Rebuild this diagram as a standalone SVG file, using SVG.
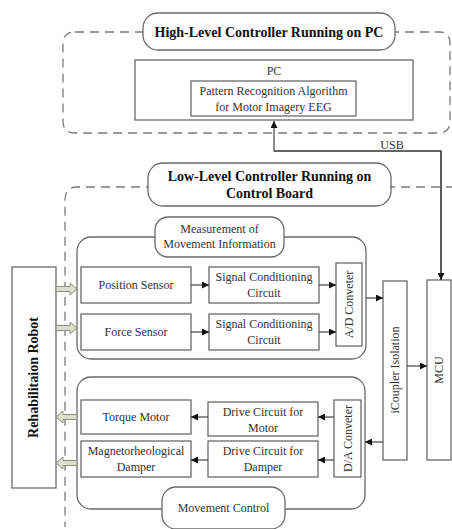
<svg xmlns="http://www.w3.org/2000/svg" width="452" height="529" viewBox="0 0 452 529">
<style>
.bx{fill:#fff;stroke:#6a6a6a;stroke-width:1.3}
.grp{fill:none;stroke:#6a6a6a;stroke-width:1.3}
.dash{fill:none;stroke:#7a7a7a;stroke-width:1.3;stroke-dasharray:9 6}
.t{font-family:"Liberation Serif","Times New Roman",serif;font-size:12px;fill:#333;text-anchor:middle}
.tb{font-family:"Liberation Serif","Times New Roman",serif;font-size:14px;font-weight:bold;fill:#111;text-anchor:middle}
.c{fill:none;stroke:#333;stroke-width:1.1}
.h{fill:#dcdfcc;stroke:#8a9080;stroke-width:1}
</style>
<defs>
<marker id="ar" viewBox="0 0 10 10" refX="10" refY="5" markerWidth="8" markerHeight="7" markerUnits="userSpaceOnUse" orient="auto">
<path d="M0,0 L10,5 L0,10 z" fill="#111"/>
</marker>
</defs>
<g id="high-level">
<path class="dash" d="M75,32 H440 Q450,32 450,44 V121 Q450,133 438,133 H75 Q63,133 63,121 V44 Q63,32 75,32 Z"/>
<rect class="bx" x="143" y="13" width="252" height="37" rx="15"/>
<text class="tb" x="269" y="36.5">High-Level Controller Running on PC</text>
</g>
<g id="pc">
<rect class="bx" x="135" y="60" width="278" height="60"/>
<text class="t" x="274" y="75">PC</text>
</g>
<g id="pattern">
<rect class="bx" x="191" y="81" width="165" height="35"/>
<text class="t" x="273.5" y="95">Pattern Recognition Algorithm</text>
<text class="t" x="273.5" y="111">for Motor Imagery EEG</text>
</g>
<g id="low-level">
<path class="dash" d="M455,187 H77 Q65,187 65,200 V527"/>
<rect class="bx" x="148" y="163" width="243" height="43" rx="15"/>
<text class="tb" x="269.5" y="181">Low-Level Controller Running on</text>
<text class="tb" x="269.5" y="198">Control Board</text>
</g>
<g id="measurement">
<rect class="grp" x="77" y="237" width="289" height="122" rx="14"/>
<rect class="bx" x="155" y="217" width="129" height="40" rx="13"/>
<text class="t" x="219.5" y="233">Measurement of</text>
<text class="t" x="219.5" y="248">Movement Information</text>
</g>
<g id="position-sensor">
<rect class="bx" x="81" y="267" width="110" height="36"/>
<text class="t" x="136" y="289">Position Sensor</text>
</g>
<g id="scc1">
<rect class="bx" x="209" y="267" width="110" height="36"/>
<text class="t" x="264" y="281">Signal Conditioning</text>
<text class="t" x="264" y="297">Circuit</text>
</g>
<g id="force-sensor">
<rect class="bx" x="81" y="314" width="110" height="36"/>
<text class="t" x="136" y="336">Force Sensor</text>
</g>
<g id="scc2">
<rect class="bx" x="209" y="314" width="110" height="36"/>
<text class="t" x="264" y="328">Signal Conditioning</text>
<text class="t" x="264" y="344">Circuit</text>
</g>
<g id="ad">
<rect class="bx" x="336" y="263" width="26" height="83"/>
<text class="t" transform="translate(353,304.5) rotate(-90)">A/D Conveter</text>
</g>
<g id="icoupler">
<rect class="bx" x="383" y="281" width="24" height="179"/>
<text class="t" transform="translate(398.5,370) rotate(-90)">iCoupler Isolation</text>
</g>
<g id="mcu">
<rect class="bx" x="427" y="280" width="24" height="180"/>
<text class="t" transform="translate(442.5,370) rotate(-90)">MCU</text>
</g>
<g id="robot">
<rect class="bx" x="12" y="267" width="44" height="221"/>
<text class="tb" transform="translate(37.5,377.5) rotate(-90)">Rehabilitaion Robot</text>
</g>
<g id="movement">
<rect class="grp" x="77" y="377" width="288" height="132" rx="14"/>
<rect class="bx" x="162" y="487" width="123" height="42" rx="14"/>
<text class="t" x="223.5" y="512">Movement Control</text>
</g>
<g id="torque-motor">
<rect class="bx" x="81" y="400" width="110" height="34"/>
<text class="t" x="136" y="421">Torque Motor</text>
</g>
<g id="drive-motor">
<rect class="bx" x="208" y="402" width="110" height="34"/>
<text class="t" x="263" y="416">Drive Circuit for</text>
<text class="t" x="263" y="432">Motor</text>
</g>
<g id="mr-damper">
<rect class="bx" x="81" y="441" width="110" height="36"/>
<text class="t" x="136" y="455">Magnetorheological</text>
<text class="t" x="136" y="471">Damper</text>
</g>
<g id="drive-damper">
<rect class="bx" x="208" y="441" width="110" height="36"/>
<text class="t" x="263" y="455">Drive Circuit for</text>
<text class="t" x="263" y="471">Damper</text>
</g>
<g id="da">
<rect class="bx" x="334" y="400" width="27" height="77"/>
<text class="t" transform="translate(351.5,438.5) rotate(-90)">D/A Conveter</text>
</g>
<g id="connectors">
<path class="c" d="M441,280 V151 H274 V121" marker-end="url(#ar)"/>
<path class="c" d="M274,151 H441 V280" marker-end="url(#ar)"/>
<text class="t" x="392" y="149">USB</text>
<path class="c" d="M191,285 H209" marker-end="url(#ar)"/>
<path class="c" d="M319,285 H336" marker-end="url(#ar)"/>
<path class="c" d="M191,332 H209" marker-end="url(#ar)"/>
<path class="c" d="M319,332 H336" marker-end="url(#ar)"/>
<path class="c" d="M366,298 H383" marker-end="url(#ar)"/>
<path class="c" d="M407,366 H427" marker-end="url(#ar)"/>
<path class="c" d="M383,442 H365" marker-end="url(#ar)"/>
<path class="c" d="M334,417 H318" marker-end="url(#ar)"/>
<path class="c" d="M334,460 H318" marker-end="url(#ar)"/>
<path class="c" d="M208,417 H191" marker-end="url(#ar)"/>
<path class="c" d="M208,460 H191" marker-end="url(#ar)"/>
<polygon class="h" points="56,286.5 70,286.5 70,283 77,289 70,295 70,291.5 56,291.5"/>
<polygon class="h" points="56,325.5 70,325.5 70,322 77,328 70,334 70,330.5 56,330.5"/>
<polygon class="h" points="77,414.5 63,414.5 63,411 56,417 63,423 63,419.5 77,419.5"/>
<polygon class="h" points="77,460.5 63,460.5 63,457 56,463 63,469 63,465.5 77,465.5"/>
</g>
</svg>
